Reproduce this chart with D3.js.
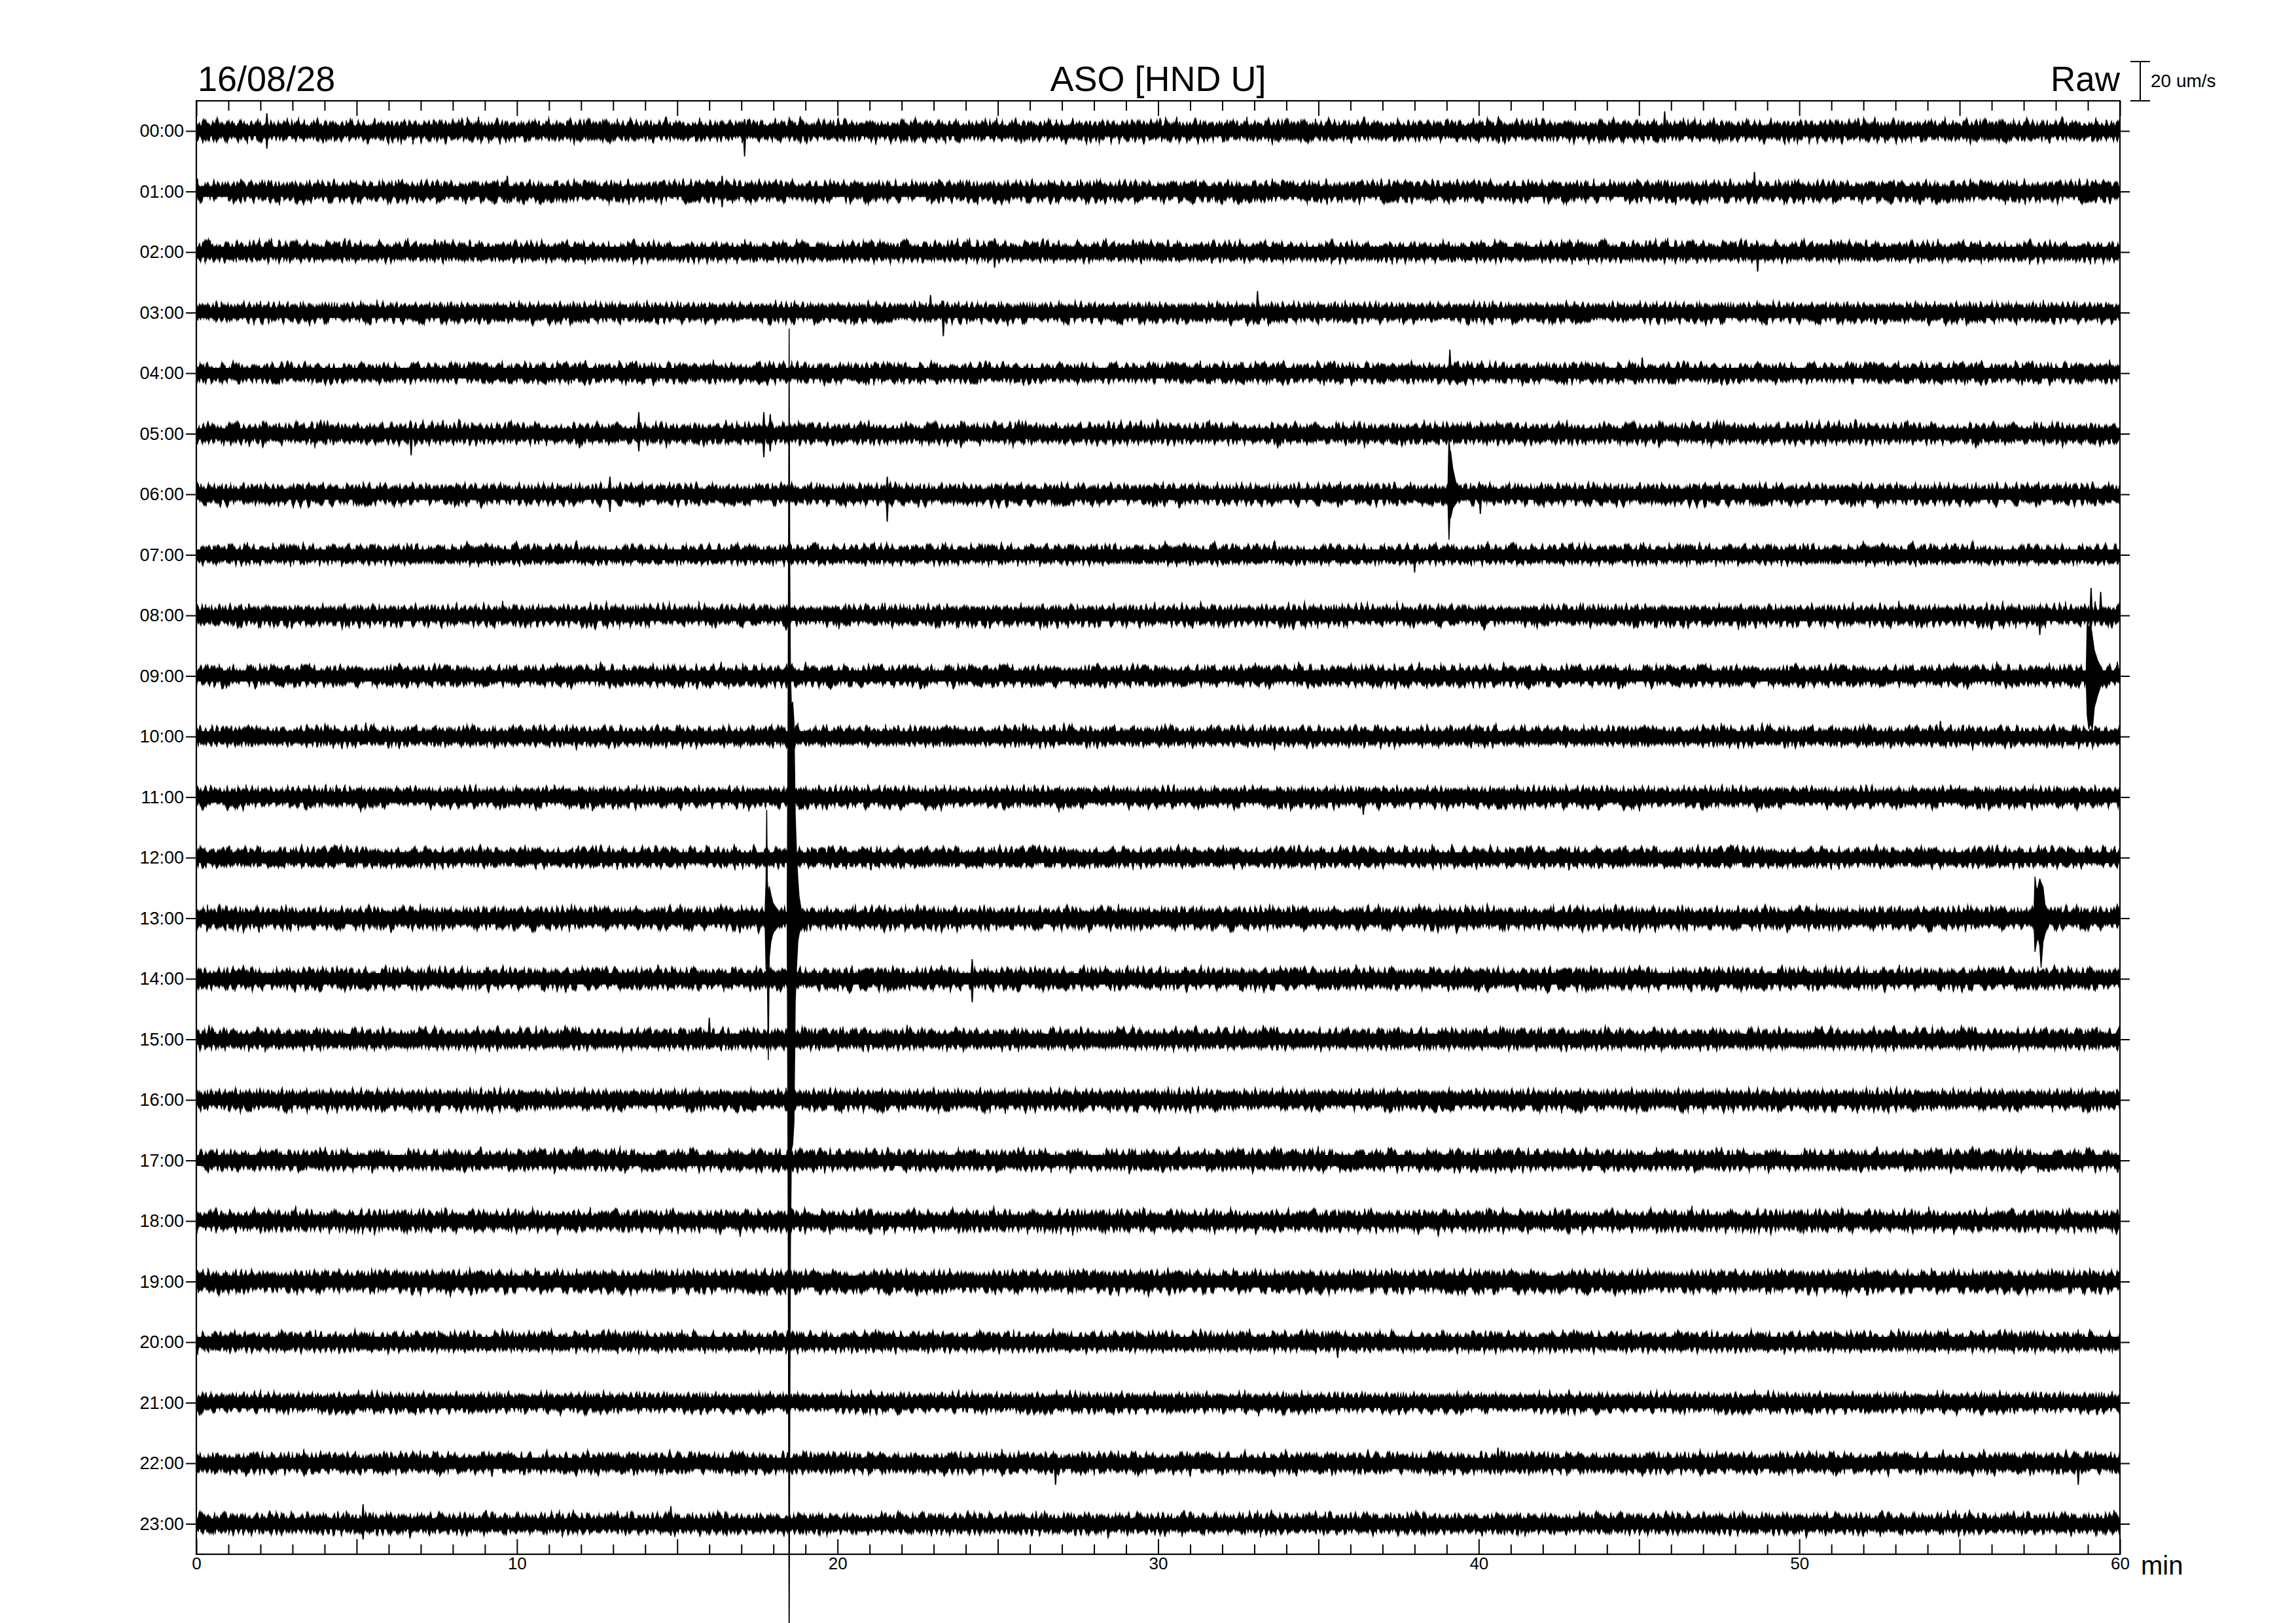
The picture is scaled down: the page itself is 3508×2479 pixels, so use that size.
<!DOCTYPE html>
<html>
<head>
<meta charset="utf-8">
<script src="https://cdn.jsdelivr.net/npm/d3@7"></script>
<style>
  body { margin: 0; background: #fff; }
  svg { display: block; font-family: "Liberation Sans", Arial, Helvetica, sans-serif; }
</style>
</head>
<body>
<script>
// hour rows (one hour per trace)
var hourLabels = ["00:00","01:00","02:00","03:00","04:00","05:00","06:00","07:00",
                  "08:00","09:00","10:00","11:00","12:00","13:00","14:00","15:00",
                  "16:00","17:00","18:00","19:00","20:00","21:00","22:00","23:00"];
var minuteLabels = [0, 10, 20, 30, 40, 50, 60];

// background noise, half width of the band in um/s (dense core / ragged edge)
var noiseCore = [2.7,2.7,2.7,2.7,2.7,2.7,2.8,2.7,2.8,2.8,2.7,2.8,2.7,3.0,2.9,2.8,2.8,2.8,2.8,3.0,2.7,2.7,2.8,2.8];
var noiseEdge = [9.4,9.4,9.0,9.0,9.0,9.4,9.4,9.0,9.4,9.4,9.0,9.4,9.0,10.0,9.7,9.4,9.4,9.4,9.4,10.0,9.0,9.0,9.4,9.4];

// single spikes: [row, minute, up, down] (um/s)
var spikes = [
  [0, 2.2, 7, 7], [0, 17.1, 4, 11], [0, 45.8, 8, 4],
  [1, 9.7, 6, 4], [1, 16.4, 6, 6], [1, 48.6, 8, 4],
  [2, 24.9, 5, 6], [2, 48.7, 3, 8],
  [3, 22.9, 7, 3], [3, 23.3, 4, 10], [3, 33.1, 9, 4],
  [4, 39.1, 10, 4], [4, 45.1, 6, 3],
  [5, 6.7, 3, 9], [5, 13.8, 9, 7], [5, 17.7, 9, 10], [5, 17.9, 8, 7],
  [6, 12.9, 7, 7], [6, 21.55, 7, 12], [6, 40.05, 3, 8],
  [7, 38.0, 3, 7],
  [8, 57.5, 3, 8], [8, 59.1, 12, 4], [8, 59.4, 10, 3],
  [10, 54.4, 6, 3],
  [11, 36.4, 3, 7],
  [14, 24.2, 8, 10],
  [15, 16.0, 9, 3],
  [17, 29.1, 4, 5],
  [20, 35.6, 3, 6],
  [22, 26.8, 3, 9], [22, 40.6, 6, 3], [22, 58.7, 3, 9],
  [23, 5.2, 8, 6], [23, 14.8, 7, 4]
];

// events: envelope samples [minute, up, down] (um/s)
var ev06 = [[39.04,3,3],[39.07,29,23],[39.10,22,12],[39.12,22,12],[39.19,13,7],[39.27,7,5],[39.35,3,3]];
var ev09 = [[58.95,3,3],[58.98,27,20],[59.03,24,27],[59.08,27,24],[59.14,20,27],[59.20,13,16],[59.30,8,10],[59.42,4,4]];
var ev13a = [[17.74,3,3],[17.77,19,26],[17.79,55,12],[17.81,19,26],[17.84,12,72],[17.87,16,20],[17.92,12,12],[17.98,8,8],[18.05,6,6],[18.15,4,4]];
var ev13b = [[18.43,3,3],[18.46,118,150],[18.49,300,383],[18.51,178,258],[18.53,125,168],[18.56,108,118],
             [18.60,110,115],[18.64,100,104],[18.68,52,42],[18.72,33,25],[18.76,20,12],[18.80,11,8],[18.86,5,5]];
var ev13c = [[57.32,3,3],[57.35,21,17],[57.40,14,12],[57.45,16,10],[57.50,20,14],[57.54,18,25],[57.60,16,12],[57.66,7,8],[57.75,4,4]];
var eventRows = [6, 9, 13, 13, 13];
var eventData = [ev06, ev09, ev13a, ev13b, ev13c];

var W = 3508, H = 2479;
var svg = d3.select("body").append("svg").attr("width", W).attr("height", H);

var x = d3.scaleLinear().domain([0, 60]).range([300, 3239]);
var y = d3.scaleLinear().domain([0, 23]).range([200, 2327.5]);
var amp = d3.scaleLinear().domain([0, 20]).range([0, 60]);
var top0 = 154, bot0 = 2374;

// ragged texture for the noise band: a gradient (opaque at the trace axis)
// thresholded against turbulence, so each column gets its own height
var defs = svg.append("defs");
[["gradUp", 0, 1], ["gradDn", 1, 0]].forEach(function(g){
  var lg = defs.append("linearGradient").attr("id", g[0])
    .attr("x1", 0).attr("y1", 0).attr("x2", 0).attr("y2", 1);
  lg.append("stop").attr("offset", 0).attr("stop-color", "#000").attr("stop-opacity", g[1]);
  lg.append("stop").attr("offset", 1).attr("stop-color", "#000").attr("stop-opacity", g[2]);
});
[["grainUp", 3], ["grainDn", 11]].forEach(function(f){
  var fl = defs.append("filter").attr("id", f[0])
    .attr("x", "-1%").attr("y", "-20%").attr("width", "102%").attr("height", "140%")
    .attr("color-interpolation-filters", "sRGB");
  fl.append("feTurbulence").attr("type", "fractalNoise")
    .attr("baseFrequency", "0.24 0.015").attr("numOctaves", 2).attr("seed", f[1]).attr("result", "n");
  fl.append("feComposite").attr("in", "SourceGraphic").attr("in2", "n").attr("operator", "arithmetic")
    .attr("k1", 0).attr("k2", 8).attr("k3", 8).attr("k4", -7.9);
});

var traces = svg.append("g");
hourLabels.forEach(function(lab, i){
  var g = traces.append("g");
  var e = amp(noiseEdge[i]);
  g.append("rect")
    .attr("x", x(0)).attr("width", x(60) - x(0))
    .attr("y", y(i) - e).attr("height", e)
    .attr("fill", "url(#gradUp)").attr("filter", "url(#grainUp)");
  g.append("rect")
    .attr("x", x(0)).attr("width", x(60) - x(0))
    .attr("y", y(i)).attr("height", e)
    .attr("fill", "url(#gradDn)").attr("filter", "url(#grainDn)");
  g.append("rect")
    .attr("x", x(0)).attr("width", x(60) - x(0))
    .attr("y", y(i) - amp(noiseCore[i])).attr("height", 2 * amp(noiseCore[i]))
    .attr("fill", "#000");
});

function envelope(row){
  return d3.area()
    .x(function(d){ return x(d[0]); })
    .y0(function(d){ return y(row) + amp(d[2]); })
    .y1(function(d){ return y(row) - amp(d[1]); });
}

spikes.forEach(function(s){
  var row = s[0], c = noiseCore[row];
  var pts = [[s[1] - 0.03, c, c], [s[1], s[2] + 2, s[3] + 2], [s[1] + 0.03, c, c]];
  traces.append("path").attr("d", envelope(row)(pts))
    .attr("fill", "#000").attr("stroke", "#000").attr("stroke-width", 1.8);
});

eventData.forEach(function(pts, k){
  traces.append("path").attr("d", envelope(eventRows[k])(pts))
    .attr("fill", "#000").attr("stroke", "#000").attr("stroke-width", 1.5)
    .attr("stroke-linejoin", "round");
});

// frame
svg.append("rect")
  .attr("x", x(0)).attr("y", top0)
  .attr("width", x(60) - x(0)).attr("height", bot0 - top0)
  .attr("fill", "none").attr("stroke", "#000").attr("stroke-width", 2.2);

function styleAxis(g, fs){
  g.select(".domain").remove();
  g.selectAll(".tick line").attr("stroke", "#000").attr("stroke-width", 2);
  g.selectAll("text").attr("fill", "#000")
    .style("font-family", "'Liberation Sans', Arial, sans-serif").style("font-size", fs + "px");
}

var mins = d3.range(0, 61);
var xb = svg.append("g").attr("transform", "translate(0," + bot0 + ")")
  .call(d3.axisBottom(x).tickValues(mins).tickSize(-15).tickSizeOuter(0).tickPadding(5)
    .tickFormat(function(d){ return minuteLabels.indexOf(d) >= 0 ? d : ""; }));
styleAxis(xb, 26);
xb.selectAll(".tick line").filter(function(d){ return d % 5 === 0; }).attr("y2", -23);

var xt = svg.append("g").attr("transform", "translate(0," + top0 + ")")
  .call(d3.axisTop(x).tickValues(mins).tickSize(-15).tickSizeOuter(0).tickFormat(""));
styleAxis(xt, 26);
xt.selectAll(".tick line").filter(function(d){ return d % 5 === 0; }).attr("y2", 23);

var yl = svg.append("g").attr("transform", "translate(" + x(0) + ",0)")
  .call(d3.axisLeft(y).tickValues(d3.range(24)).tickSize(16).tickSizeOuter(0).tickPadding(3)
    .tickFormat(function(i){ return hourLabels[i]; }));
styleAxis(yl, 27);

var yr = svg.append("g").attr("transform", "translate(" + x(60) + ",0)")
  .call(d3.axisRight(y).tickValues(d3.range(24)).tickSize(15).tickSizeOuter(0).tickFormat(""));
styleAxis(yr, 27);

// titles
svg.append("text").attr("x", 302).attr("y", 139).style("font-size", "54px").text("16/08/28");
svg.append("text").attr("x", (x(0) + x(60)) / 2).attr("y", 139).attr("text-anchor", "middle")
  .style("font-size", "54px").text("ASO [HND U]");
svg.append("text").attr("x", x(60)).attr("y", 139).attr("text-anchor", "end")
  .style("font-size", "53px").text("Raw");
svg.append("text").attr("x", 3271).attr("y", 2405).style("font-size", "40px").text("min");

// amplitude scale bar, 20 um/s
var sb = svg.append("g").attr("stroke", "#000").attr("stroke-width", 2);
var bx = 3270, by1 = top0, by0 = top0 - amp(20);
sb.append("line").attr("x1", bx).attr("x2", bx).attr("y1", by0).attr("y2", by1);
sb.append("line").attr("x1", bx - 15).attr("x2", bx + 15).attr("y1", by0).attr("y2", by0);
sb.append("line").attr("x1", bx - 15).attr("x2", bx + 15).attr("y1", by1).attr("y2", by1);
svg.append("text").attr("x", 3286).attr("y", 133).style("font-size", "28px").text("20 um/s");
</script>
</body>
</html>
